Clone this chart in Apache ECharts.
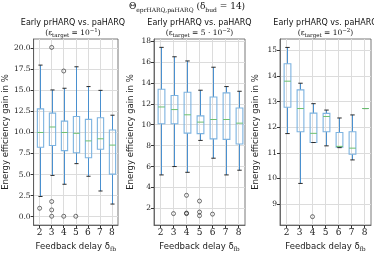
<!DOCTYPE html>
<html><head><meta charset="utf-8">
<script src="https://cdn.jsdelivr.net/npm/echarts@6/dist/echarts.min.js"></script>
<style>html,body{margin:0;padding:0;background:#fff}#c{width:374px;height:257px}</style>
</head><body><div id="c"></div><script>
// ---------- data ----------
const delays = [2, 3, 4, 5, 6, 7, 8];
// [min whisker, Q1, median, Q3, max whisker] per delay
const stats1 = [
  [2.4, 8.25, 10.0, 12.8, 18.0],
  [4.9, 8.45, 10.65, 12.3, 15.05],
  [3.85, 7.85, 10.0, 11.35, 15.25],
  [6.3, 7.6, 9.9, 11.9, 17.8],
  [4.8, 7.0, 9.0, 11.55, 15.45],
  [3.05, 8.0, 9.25, 11.75, 15.0],
  [1.5, 5.05, 8.5, 10.3, 12.05]
];
const outliers1 = [[2, 1.0], [3, 20.1], [3, 1.8], [3, 0.8], [3, 0.05], [4, 17.3], [4, 0.05], [5, 0.05]];
const stats2 = [
  [5.2, 10.1, 11.7, 13.4, 17.4],
  [6.0, 10.1, 11.45, 12.8, 16.5],
  [5.45, 9.2, 10.95, 13.1, 16.1],
  [8.5, 9.15, 10.25, 10.85, 13.3],
  [6.8, 8.65, 10.5, 12.65, 15.5],
  [5.2, 8.6, 10.5, 13.05, 13.65],
  [5.65, 8.15, 10.15, 11.6, 13.2]
];
const outliers2 = [[3, 1.5], [4, 3.25], [4, 1.55], [4, 1.5], [5, 2.7], [5, 1.65], [5, 1.3], [6, 1.45]];
const stats3 = [
  [11.75, 12.78, 13.8, 14.48, 15.12],
  [9.8, 11.82, 12.73, 13.46, 13.72],
  [11.4, 11.4, 11.76, 12.55, 12.92],
  [11.27, 11.82, 12.42, 12.54, 12.67],
  [11.2, 11.22, 11.25, 11.79, 12.36],
  [10.72, 10.94, 11.18, 11.82, 12.48],
  [12.73, 12.73, 12.73, 12.73, 12.73]
];
const outliers3 = [[4, 8.5]];
const yTicks1 = [0, 2.5, 5, 7.5, 10, 12.5, 15, 17.5, 20];
const yTicks2 = [2, 4, 6, 8, 10, 12, 14, 16, 18];
const yTicks3 = [9, 10, 11, 12, 13, 14, 15];
const yRange1 = [-1.0, 21.1];
const yRange2 = [0.4, 18.2];
const yRange3 = [8.17, 15.45];
const subTargets = ['10{u|\u22121}', '5 \u00b7 10{u|\u22122}', '10{u|\u22122}'];

// ---------- styling ----------
const BOX = '#7db3e0', WHISK = '#4a90cf', MED = '#6cc070', CAP = '#2a2a2a';
const GRIDC = '#dcdcdc', SPINE = '#555';
const SERIF = '"DejaVu Serif", serif';
const SANS = '"DejaVu Sans", sans-serif';

const panels = [
  {stats: stats1, out: outliers1, ticks: yTicks1, range: yRange1, fmt: v => v.toFixed(1), gap: 21, grid: {left: 28, top: 39, width: 90, height: 199}},
  {stats: stats2, out: outliers2, ticks: yTicks2, range: yRange2, fmt: v => String(v), gap: 19, grid: {left: 154, top: 39, width: 91, height: 199}},
  {stats: stats3, out: outliers3, ticks: yTicks3, range: yRange3, fmt: v => String(v), gap: 20, grid: {left: 280, top: 39, width: 91, height: 199}}
];

function renderBox(params, api) {
  const x = api.value(0);
  const p = [1, 2, 3, 4, 5].map(i => api.coord([x, api.value(i)]));
  const cx = Math.round(p[0][0]) + 0.5;
  const half = api.size([0.52, 0])[0] / 2;
  const capHalf = api.size([0.34, 0])[0] / 2;
  const ws = {stroke: WHISK, lineWidth: 1};
  return {type: 'group', children: [
    {type: 'line', shape: {x1: cx, y1: p[0][1], x2: cx, y2: p[1][1]}, style: ws},
    {type: 'line', shape: {x1: cx, y1: p[3][1], x2: cx, y2: p[4][1]}, style: ws},
    {type: 'rect', shape: {x: cx - half, y: p[3][1], width: 2 * half, height: p[1][1] - p[3][1]}, style: {fill: 'rgba(0,0,0,0)', stroke: BOX, lineWidth: 1.1}},
    {type: 'line', shape: {x1: cx - capHalf, y1: p[0][1], x2: cx + capHalf, y2: p[0][1]}, style: {stroke: CAP, lineWidth: 1}},
    {type: 'line', shape: {x1: cx - capHalf, y1: p[4][1], x2: cx + capHalf, y2: p[4][1]}, style: {stroke: CAP, lineWidth: 1}},
    {type: 'line', shape: {x1: cx - half, y1: p[2][1], x2: cx + half, y2: p[2][1]}, style: {stroke: MED, lineWidth: 1}}
  ]};
}

const grid = [], xAxis = [], yAxis = [], series = [], graphic = [];
panels.forEach((pn, i) => {
  grid.push(Object.assign({show: true, borderColor: SPINE, borderWidth: 0.8, containLabel: false}, pn.grid));
  xAxis.push({
    type: 'value', gridIndex: i, min: 1.5, max: 8.5,
    axisLine: {show: true, onZero: false, lineStyle: {color: SPINE, width: 0.8}},
    axisTick: {show: true, length: 3, lineStyle: {color: '#333'}, customValues: delays},
    axisLabel: {customValues: delays, color: '#222', fontFamily: SERIF, fontSize: 9, margin: 3},
    splitLine: {show: true, lineStyle: {color: GRIDC, width: 1}},
    name: '{m|Feedback delay \u03b4}{s|fb}', nameLocation: 'middle', nameGap: 14,
    nameTextStyle: {rich: {
      m: {fontFamily: SANS, fontSize: 8.5, color: '#222', lineHeight: 11, verticalAlign: 'middle'},
      s: {fontFamily: SERIF, fontSize: 6, color: '#222', lineHeight: 7, verticalAlign: 'bottom'}
    }}
  });
  yAxis.push({
    type: 'value', gridIndex: i, min: pn.range[0], max: pn.range[1],
    axisLine: {show: true, lineStyle: {color: SPINE, width: 0.8}},
    axisTick: {show: true, length: 3, lineStyle: {color: '#333'}, customValues: pn.ticks},
    axisLabel: {customValues: pn.ticks, formatter: pn.fmt, color: '#222', fontFamily: SERIF, fontSize: 7.5, margin: 3},
    splitLine: {show: true, lineStyle: {color: GRIDC, width: 1}},
    name: 'Energy efficiency gain in %', nameLocation: 'middle', nameGap: pn.gap,
    nameTextStyle: {fontFamily: SANS, fontSize: 8.5, color: '#222'}
  });
  series.push({
    type: 'custom', xAxisIndex: i, yAxisIndex: i, renderItem: renderBox, z: 3,
    encode: {x: 0, y: [1, 2, 3, 4, 5]},
    data: pn.stats.map((s, k) => [delays[k]].concat(s))
  });
  series.push({
    type: 'scatter', xAxisIndex: i, yAxisIndex: i, z: 4, symbol: 'circle', symbolSize: 4,
    itemStyle: {color: 'rgba(0,0,0,0)', borderColor: '#222', borderWidth: 0.8},
    data: pn.out
  });
  const cxp = pn.grid.left + pn.grid.width / 2;
  graphic.push({type: 'text', x: cxp, y: 23, style: {
    text: 'Early prHARQ vs. paHARQ', fontFamily: SANS, fontSize: 8, fill: '#111', align: 'center', verticalAlign: 'middle'}});
  graphic.push({type: 'text', x: cxp, y: 33, style: {
    text: '{m|(\u03b5}{s|target}{m| = }' + subTargets[i].replace(/^([^{]*)/, '{m|$1}') + '{m|)}',
    align: 'center', verticalAlign: 'middle', fill: '#111',
    rich: {
      m: {fontFamily: SERIF, fontSize: 7.5, lineHeight: 11, verticalAlign: 'middle', fill: '#111'},
      s: {fontFamily: SERIF, fontSize: 5.5, lineHeight: 7, verticalAlign: 'bottom', fill: '#111'},
      u: {fontFamily: SERIF, fontSize: 5.5, lineHeight: 7, verticalAlign: 'top', fill: '#111'}
    }}});
});
graphic.push({type: 'text', x: 187, y: 7, style: {
  text: '{m|\u0398}{s|eprHARQ,paHARQ}{m| (\u03b4}{s|bud}{m| = 14)}',
  align: 'center', verticalAlign: 'middle', fill: '#111',
  rich: {
    m: {fontFamily: SERIF, fontSize: 9, lineHeight: 12, verticalAlign: 'middle', fill: '#111'},
    s: {fontFamily: SERIF, fontSize: 6, lineHeight: 7, verticalAlign: 'bottom', fill: '#111'}
  }}});

const chart = echarts.init(document.getElementById('c'), null, {renderer: 'canvas'});
chart.setOption({animation: false, backgroundColor: '#fff', grid, xAxis, yAxis, series, graphic});
</script></body></html>
